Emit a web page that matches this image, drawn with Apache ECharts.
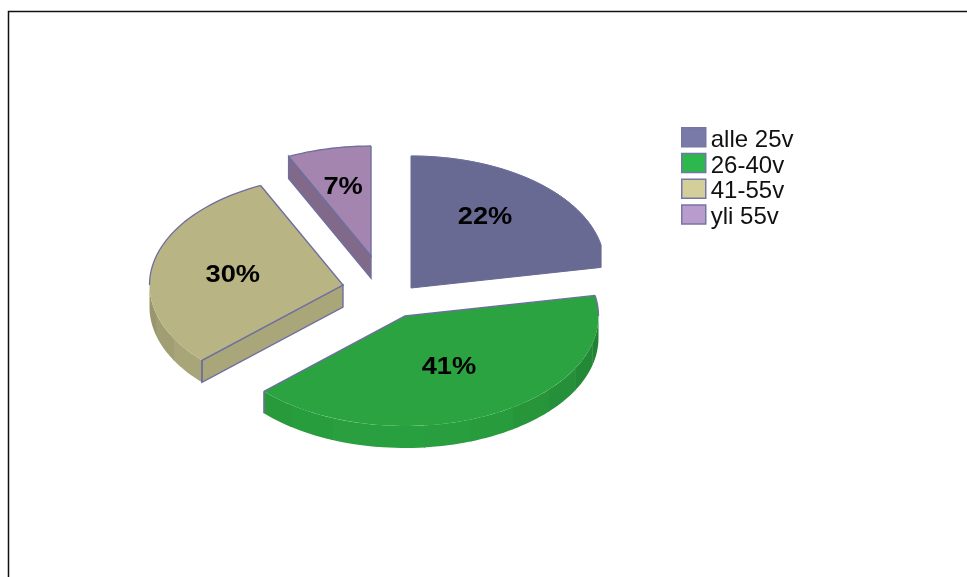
<!DOCTYPE html>
<html>
<head>
<meta charset="utf-8">
<style>html,body{margin:0;padding:0;background:#fff}#chart{width:967px;height:577px}</style>
<script src="https://cdn.jsdelivr.net/npm/echarts@6/dist/echarts.min.js"></script>
</head>
<body>
<div id="chart"></div>
<script>
// Age groups and their shares, in percent
const ageGroups = ['alle 25v', '26-40v', '41-55v', 'yli 55v'];
const shares = [22, 41, 30, 7];

// Slice and legend colours
const faceColors = ['#696a94', '#2aa340', '#b8b484', '#a385af'];
const legendColors = ['#7a7aa8', '#2db84d', '#d3cf9b', '#b89ccb'];
const sideShade = [1, 0.9, 0.92, 0.79];
const edgeColor = '#6f6f9f';

// Exploded position of each wedge's apex, pie radii and rim height
const apexes = [[411, 266], [405, 316], [343, 285], [371, 256]];
const labelRadius = [0.6, 0.5, 0.58, 0.66];
const RX = 193.5, RY = 110, DEPTH = 22;

const total = shares.reduce((a, b) => a + b, 0);

function shade(hex, k) {
  const n = parseInt(hex.slice(1), 16);
  const c = [n >> 16, (n >> 8) & 255, n & 255].map(v => Math.round(v * k));
  return 'rgb(' + c.join(',') + ')';
}

// Builds one tilted wedge: rim segments, visible cut wall, top face, edges and label
function wedge(i, value) {
  const start = shares.slice(0, i).reduce((a, b) => a + b, 0) / total * 360;
  const end = start + value / total * 360;
  const [ax, ay] = apexes[i];
  const rad = d => d * Math.PI / 180;
  const pt = (d, drop) => [ax + RX * Math.sin(rad(d)), ay - RY * Math.cos(rad(d)) + (drop || 0)];
  const arc = (from, to) => {
    const pts = [], n = Math.max(2, Math.ceil(Math.abs(to - from) / 2));
    for (let k = 0; k <= n; k++) pts.push(pt(from + (to - from) * k / n));
    return pts;
  };
  const children = [];
  const color = faceColors[i];
  const plainSlice = i === 0; // this wedge's wall blends into its face

  // Outer rim, shaded in steps around the front half
  const from = Math.max(start, 90), to = Math.min(end, 270);
  if (to > from) {
    const step = 14;
    for (let d = from; d < to; d += step) {
      const e = Math.min(d + step, to);
      const top = arc(d, e + (e < to ? 0.4 : 0));
      const bottom = top.map(p => [p[0], p[1] + DEPTH]).reverse();
      const mid = (d + e) / 2;
      const k = 0.79 + 0.19 * Math.cos(rad(mid - 185));
      children.push({ type: 'polygon', shape: { points: top.concat(bottom) }, style: { fill: shade(color, k) } });
    }
  }

  // Cut wall facing the viewer
  const wall = d => ({
    type: 'polygon',
    shape: { points: [[ax, ay], pt(d), pt(d, DEPTH), [ax, ay + DEPTH]] },
    style: {
      fill: shade(color, sideShade[i]),
      stroke: plainSlice ? color : edgeColor,
      lineWidth: plainSlice ? 1 : 1.4
    }
  });
  if (Math.sin(rad(start)) < -0.01) children.push(wall(start));
  if (Math.sin(rad(end)) > 0.01) children.push(wall(end));

  // Top face
  const faceArc = arc(start, end);
  children.push({
    type: 'polygon',
    shape: { points: [[ax, ay]].concat(faceArc) },
    style: { fill: color, stroke: plainSlice ? color : null, lineWidth: 1 }
  });

  // Edges: both radii and the part of the arc behind the rim
  if (!plainSlice) {
    children.push({
      type: 'polyline',
      shape: { points: [pt(start), [ax, ay], pt(end)] },
      style: { fill: null, stroke: edgeColor, lineWidth: 1.4 }
    });
  }
  [[start, Math.min(end, 90)], [Math.max(start, 270), end]].forEach(([a, b]) => {
    if (b > a) children.push({
      type: 'polyline',
      shape: { points: arc(a, b) },
      style: { fill: null, stroke: edgeColor, lineWidth: plainSlice ? 0.7 : 1.3 }
    });
  });
  [start, end].forEach(d => {
    if (d > 90 && d < 270) children.push({
      type: 'line',
      shape: { x1: pt(d)[0], y1: pt(d)[1], x2: pt(d)[0], y2: pt(d)[1] + DEPTH },
      style: { stroke: edgeColor, lineWidth: 1.5 }
    });
  });

  // Percentage label on the face
  const midAngle = (start + end) / 2;
  children.push({
    type: 'text',
    x: ax + RX * labelRadius[i] * Math.sin(rad(midAngle)),
    y: ay - RY * labelRadius[i] * Math.cos(rad(midAngle)) + 2.5,
    scaleX: 1.16,
    style: {
      text: value + '%',
      font: 'bold 23.5px "Liberation Sans", Arial, sans-serif',
      fill: '#000',
      align: 'center',
      verticalAlign: 'middle'
    }
  });
  return { type: 'group', children };
}

const chart = echarts.init(document.getElementById('chart'), null, { renderer: 'canvas' });
chart.setOption({
  animation: false,
  backgroundColor: '#fff',
  legend: {
    orient: 'vertical',
    left: 681,
    top: 127,
    padding: 0,
    itemWidth: 24,
    itemHeight: 19,
    itemGap: 0.5,
    selectedMode: false,
    formatter: '{t|{name}}',
    textStyle: {
      rich: {
        t: {
          fontFamily: '"Liberation Sans", Arial, sans-serif',
          fontSize: 24,
          color: '#111',
          height: 20,
          padding: [6, 0, 0, 0]
        }
      }
    },
    data: ageGroups.map((name, i) => ({
      name,
      icon: 'rect',
      itemStyle: { color: legendColors[i], borderColor: '#7676a6', borderWidth: 1.5 }
    }))
  },
  graphic: [
    // Page frame: only the top and left sides fall inside the window
    { type: 'polyline', silent: true, shape: { points: [[8.5, 577], [8.5, 11.5], [967, 11.5]] },
      style: { fill: null, stroke: '#111', lineWidth: 1.5 } }
  ],
  series: ageGroups.map((name, i) => ({
    type: 'custom',
    name,
    coordinateSystem: 'none',
    itemStyle: { color: legendColors[i] },
    data: [shares[i]],
    renderItem: (params, api) => wedge(i, api.value(0))
  }))
});
</script>
</body>
</html>
